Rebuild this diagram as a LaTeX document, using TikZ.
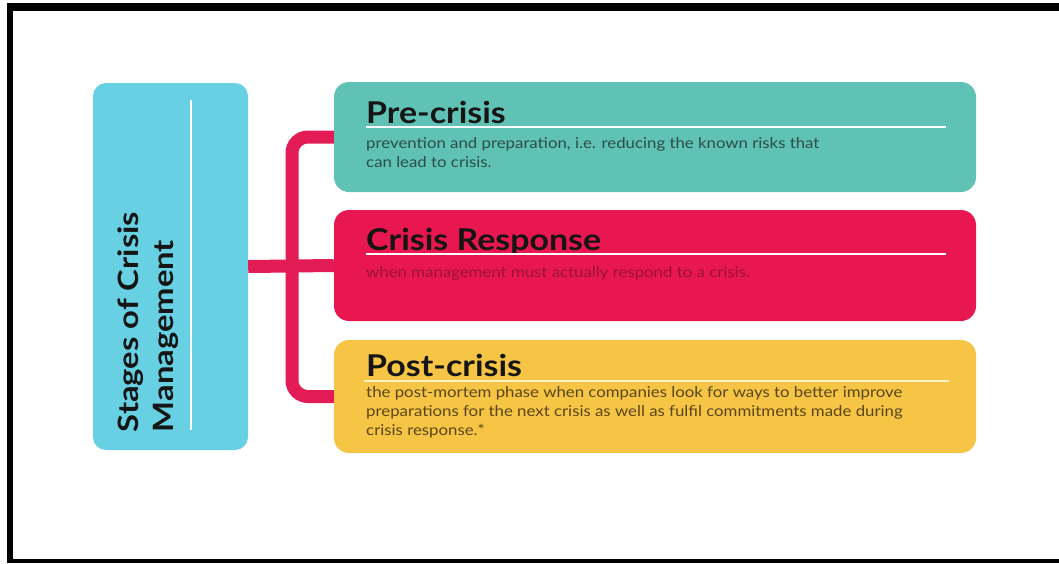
\documentclass[tikz,border=0pt]{standalone}
\usepackage{fontspec}
\setmainfont{Lato}
\definecolor{skycyan}{HTML}{67D0E3}
\definecolor{tealbox}{HTML}{5FC2B4}
\definecolor{crimsonbox}{HTML}{E8174F}
\definecolor{amberbox}{HTML}{F6C545}
\definecolor{linkred}{HTML}{E31C56}
\definecolor{titleblack}{HTML}{151515}
\definecolor{tealtext}{HTML}{2C4D48}
\definecolor{redtext}{HTML}{9C1238}
\definecolor{ambertext}{HTML}{5A4518}
\definecolor{paleamber}{HTML}{FFF4C2}
\begin{document}
\begin{tikzpicture}[x=1pt,y=-1pt,
  stagebox/.style={draw=none, rounded corners=15pt, minimum width=642pt, inner sep=0pt},
  conn/.style={draw=linkred, line width=13pt},
  title/.style={anchor=base west, inner sep=0pt, xscale=1.13, font=\fontsize{30}{36}\selectfont\bfseries, text=titleblack},
  desc/.style={anchor=base west, inner sep=0pt, align=left, xscale=1.12, font=\fontsize{15}{19}\selectfont},
  rule/.style={line width=2pt}
]
\useasboundingbox (0,0) rectangle (1059,563);
\fill[white] (0,0) rectangle (1059,563);

% photo frame
\fill[black] (7,3) rectangle (1059,11);
\fill[black] (7,3) rectangle (13,563);
\fill[black] (7,559) rectangle (1059,563);

% left heading panel
\node[fill=skycyan, rounded corners=13pt, minimum width=155pt, minimum height=367pt, inner sep=0pt] (stages) at (170.5,266.5) {};
\draw[white, rule] (191,100) -- (191,430);
\node[rotate=90, xscale=1.17, align=left, inner sep=0pt, font=\fontsize{28}{35}\selectfont\bfseries, text=titleblack] (stagestext) at (148,322) {Stages of Crisis\\Management};

% stage boxes
\node[stagebox, fill=tealbox, minimum height=110pt] (pre) at (655,137) {};
\node[stagebox, fill=crimsonbox, minimum height=111pt] (resp) at (655,265.5) {};
\node[stagebox, fill=amberbox, minimum height=113pt] (post) at (655,396.5) {};

% connectors
\coordinate (jx) at (292,266);
\draw[conn] (stages.east) -- (resp.west);
\draw[conn, rounded corners=16pt] (pre.west) -- (pre.west -| jx) -- (post.west -| jx) -- (post.west);

% Pre-crisis (multi-line texts are placed by the baseline of their last line)
\node[title] (pretitle) at (366,123) {Pre-crisis};
\draw[white, rule] (366,127) -- (946,127);
\node[desc, text=tealtext] (pretext) at (366,167) {prevention and preparation, i.e. reducing the known risks that\\can lead to crisis.};

% Crisis Response
\node[title] (resptitle) at (366,250) {Crisis Response};
\draw[white, rule] (366,254) -- (946,254);
\node[desc, text=redtext] (resptext) at (366,277) {when management must actually respond to a crisis.};

% Post-crisis
\node[title] (posttitle) at (366,376) {Post-crisis};
\draw[paleamber, rule] (364,381) -- (949,381);
\node[desc, text=ambertext] (posttext) at (366,435) {the post-mortem phase when companies look for ways to better improve\\preparations for the next crisis as well as fulfil commitments made during\\crisis response.*};
\end{tikzpicture}
\end{document}
